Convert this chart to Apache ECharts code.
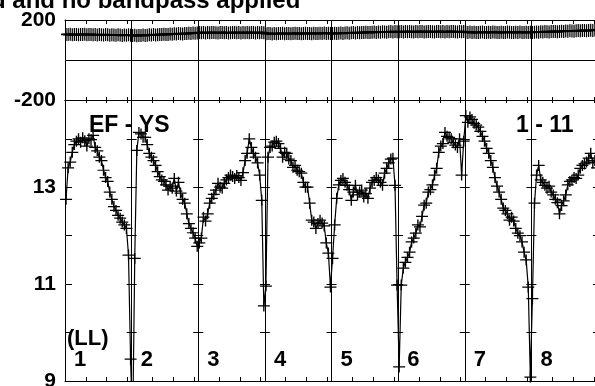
<!DOCTYPE html>
<html><head><meta charset="utf-8">
<script src="https://cdn.jsdelivr.net/npm/echarts@6/dist/echarts.min.js"></script>
<style>html,body{margin:0;padding:0;background:#fff}#c{width:595px;height:386px}</style>
</head><body><div id="c"></div>
<script>
// ---- data ----
const ifLabels = ['1','2','3','4','5','6','7','8'];
const channelsPerIF = 32;
const phaseTickLabels = [200, -200];
const ampTickLabels = [13, 11, 9];
const titleText = 'd and no bandpass applied';
const baselineLabel = 'EF - YS';
const timeLabel = '1 - 11';
const polLabel = '(LL)';

const ampIF1 = [12.75,13.40,13.52,13.72,13.88,13.95,14.00,13.93,14.02,13.96,13.85,14.00,13.98,14.07,13.82,13.75,13.62,13.55,13.35,13.20,13.12,12.90,12.75,12.60,12.52,12.42,12.36,12.28,12.22,12.15,11.60,9.45];
const ampIF2 = [8.0,11.53,13.76,14.13,14.10,14.03,14.03,13.88,13.70,13.62,13.55,13.45,13.32,13.22,13.15,13.12,13.05,12.94,13.02,12.98,13.18,12.92,13.10,12.88,12.75,12.67,12.45,12.25,12.15,12.06,11.95,11.78];
const ampIF3 = [11.85,11.95,12.38,12.30,12.45,12.67,12.77,12.85,12.94,13.08,13.00,12.98,13.08,13.15,13.20,13.25,13.22,13.18,13.24,13.20,13.14,13.30,13.55,13.70,14.00,13.82,13.70,13.62,13.50,13.25,12.73,10.55];
const ampIF4 = [10.96,13.62,13.82,13.85,13.93,13.95,13.90,13.80,13.62,13.72,13.70,13.58,13.55,13.41,13.45,13.35,13.32,13.29,13.10,13.00,13.00,12.67,12.32,12.28,12.15,12.25,12.32,12.26,12.20,11.85,11.64,10.94];
const ampIF5 = [11.53,12.22,12.77,13.05,13.14,13.18,13.10,13.04,12.95,12.73,12.90,13.04,12.84,12.90,12.94,12.80,12.87,12.77,12.98,13.10,13.14,13.20,13.15,13.10,13.04,13.29,13.39,13.50,13.58,13.60,13.04,10.98];
const ampIF6 = [9.29,10.98,11.33,11.45,11.55,11.66,11.87,11.95,12.05,12.22,12.18,12.40,12.63,12.67,12.90,12.95,13.05,13.25,13.39,13.72,13.85,13.90,14.13,14.05,14.03,14.00,13.92,13.87,13.82,14.00,13.25,13.95];
const ampIF7 = [14.48,14.34,14.45,14.40,14.32,14.28,14.24,14.15,14.05,13.95,13.80,13.70,13.55,13.41,13.20,13.02,12.90,12.75,12.57,12.52,12.45,12.32,12.38,12.30,12.15,12.05,12.00,11.87,11.66,11.50,10.94,9.08];
const ampIF8 = [10.70,12.67,13.25,13.45,13.15,13.10,13.04,12.98,13.02,12.90,12.84,12.75,12.68,12.45,12.62,12.72,12.84,13.05,13.12,13.15,13.20,13.18,13.25,13.39,13.45,13.48,13.52,13.60,13.70,13.50,13.55,13.40];

const phaseIF1 = [128,127,129,126,128,127,126,128,127,129,126,127,128,126,127,125,127,126,125,127,126,124,126,125,124,126,125,123,125,124,126,124];
const phaseIF2 = [122,124,121,123,123,125,122,124,126,125,127,125,126,128,127,129,128,127,130,129,131,130,132,131,130,133,132,134,133,135,134,135];
const phaseIF3 = [137,136,138,135,137,136,138,137,136,135,137,138,136,137,135,136,138,137,136,137,135,138,136,137,136,138,137,135,137,136,138,136];
const phaseIF4 = [131,133,132,130,132,131,133,132,134,131,132,133,131,132,134,133,132,131,133,134,132,133,131,134,133,132,134,133,135,133,134,132];
const phaseIF5 = [133,134,132,134,135,133,135,136,134,136,137,135,137,136,138,137,139,138,137,139,140,138,140,139,141,140,139,141,142,140,142,141];
const phaseIF6 = [141,142,140,142,141,143,141,140,142,141,143,142,140,141,143,142,141,140,142,143,141,142,140,142,141,143,142,141,140,142,141,142];
const phaseIF7 = [139,138,140,137,139,138,137,139,140,138,137,139,138,140,139,137,138,139,137,138,140,139,138,137,139,138,140,138,137,139,138,139];
const phaseIF8 = [138,139,140,139,141,140,142,141,140,142,143,142,141,143,144,143,145,144,146,145,144,146,147,146,148,147,146,148,149,148,150,149];

// ---- build ----
const ampAll = [].concat(ampIF1, ampIF2, ampIF3, ampIF4, ampIF5, ampIF6, ampIF7, ampIF8);
const phaseAll = [].concat(phaseIF1, phaseIF2, phaseIF3, phaseIF4, phaseIF5, phaseIF6, phaseIF7, phaseIF8);
const categories = [];
ifLabels.forEach(f => { for (let c = 1; c <= channelsPerIF; c++) categories.push(f + ':' + c); });

const L = 65, W = 533, nIF = ifLabels.length, bandW = W / nIF;
const FONT = '"Liberation Sans", Arial, Helvetica, sans-serif';
const black = '#000';
const crossPath = 'path://M0,6L12,6M6,0L6,12';
const isMinor = i => [10, 20, 30].indexOf(i % channelsPerIF) >= 0;
const isSep = i => i % channelsPerIF === 0;
const labelStyle = {show: true, color: black, fontFamily: FONT, fontWeight: 'bold', fontSize: 21, margin: 9,
  verticalAlign: 'middle'};

function xAx(grid, pos, tickLen, split) {
  return {
    type: 'category', gridIndex: grid, position: pos, data: categories, boundaryGap: true,
    axisLine: {show: true, onZero: false, lineStyle: {color: black, width: 1}},
    axisTick: {show: true, inside: true, length: tickLen, interval: (i) => isMinor(i), lineStyle: {color: black, width: 1}},
    axisLabel: {show: false},
    splitLine: {show: split, interval: (i) => isSep(i), lineStyle: {color: black, width: 1}}
  };
}

const yAxes = [
  {type: 'value', gridIndex: 0, position: 'left', min: -200, max: 200, interval: 200,
   axisLine: {show: true, onZero: false, lineStyle: {color: black, width: 1}},
   axisTick: {show: false},
   axisLabel: Object.assign({}, labelStyle, {formatter: v => phaseTickLabels.indexOf(v) >= 0 ? String(v) : ''}),
   splitLine: {show: true, lineStyle: {color: black, width: 1}}},
  {type: 'value', gridIndex: 1, position: 'left', min: 9, max: 14.8, interval: 1,
   axisLine: {show: true, onZero: false, lineStyle: {color: black, width: 1}},
   axisTick: {show: true, inside: true, length: 7, lineStyle: {color: black, width: 1}},
   axisLabel: Object.assign({}, labelStyle, {formatter: v => ampTickLabels.indexOf(v) >= 0 ? String(v) : ''}),
   splitLine: {show: false}}
];
for (let k = 1; k <= nIF; k++) {
  yAxes.push({type: 'value', gridIndex: 1, position: 'left', offset: -(k * bandW + 5), min: 9, max: 14.8, interval: 1,
    axisLine: {show: false, onZero: false}, axisLabel: {show: false}, splitLine: {show: false},
    axisTick: {show: true, inside: false, length: 10, lineStyle: {color: black, width: 1}}});
}

function txt(x, y, text, size) {
  return {type: 'text', x: x, y: y, silent: true,
    style: {text: text, fill: black, font: 'bold ' + size + 'px ' + FONT,
      align: 'left', verticalAlign: 'middle', textAlign: 'left', textVerticalAlign: 'middle'}};
}
const graphics = [
  txt(-9, 1, titleText, 24),
  txt(89, 125.5, baselineLabel, 23),
  txt(516, 125.5, timeLabel, 23),
  txt(67, 338.5, polLabel, 22)
];
ifLabels.forEach((f, k) => graphics.push(txt(L + k * bandW + 9, 359.5, f, 22)));

const chart = echarts.init(document.getElementById('c'), null, {renderer: 'canvas'});
chart.setOption({
  animation: false,
  backgroundColor: '#fff',
  grid: [
    {left: L, top: 20, width: W, height: 80, containLabel: false, outerBoundsMode: 'none'},
    {left: L, top: 100, width: W, height: 281, containLabel: false, outerBoundsMode: 'none'}
  ],
  xAxis: [xAx(0, 'top', 4, true), xAx(0, 'bottom', 3, false), xAx(1, 'top', 3, true), xAx(1, 'bottom', 4, false)],
  yAxis: yAxes,
  graphic: graphics,
  series: [
    {type: 'line', xAxisIndex: 0, yAxisIndex: 0, data: phaseAll, symbol: crossPath, symbolSize: [10, 13],
     showSymbol: true, showAllSymbol: true, silent: true, clip: true,
     itemStyle: {color: 'transparent', borderColor: black, borderWidth: 1.4},
     lineStyle: {color: black, width: 1.5}},
    {type: 'line', xAxisIndex: 2, yAxisIndex: 1, data: ampAll, symbol: crossPath, symbolSize: [12, 11],
     showSymbol: true, showAllSymbol: true, silent: true, clip: true,
     itemStyle: {color: 'transparent', borderColor: black, borderWidth: 1.3},
     lineStyle: {color: black, width: 1.2}}
  ]
});
</script></body></html>
